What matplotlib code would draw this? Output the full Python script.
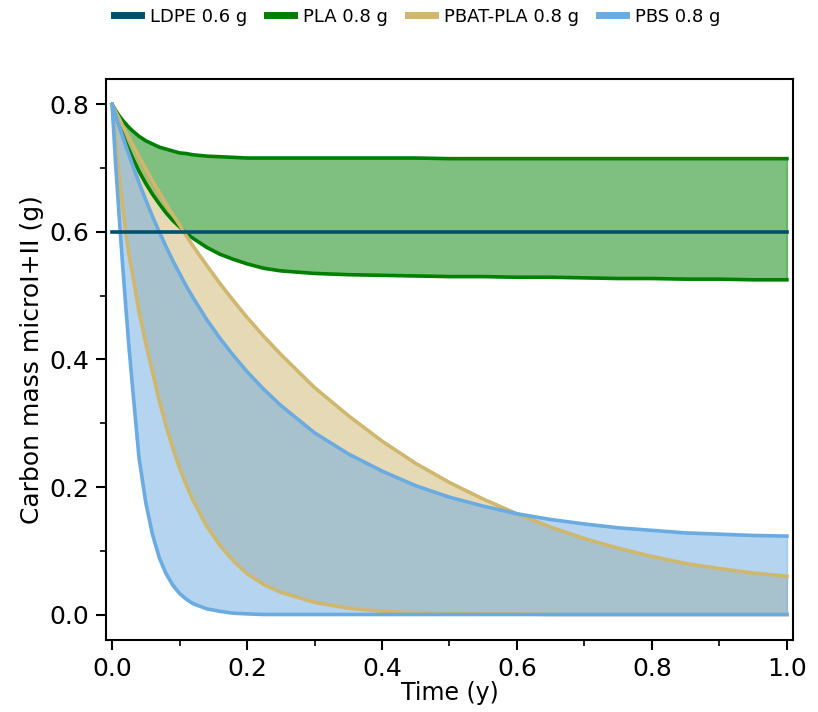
import matplotlib
matplotlib.use('Agg')
import matplotlib.pyplot as plt
from matplotlib.lines import Line2D
from matplotlib.ticker import MultipleLocator

# Time grid (years) shared by the range curves
time = [0.0, 0.005, 0.01, 0.015, 0.02, 0.025, 0.03, 0.04, 0.05, 0.06, 0.07, 0.08,
        0.09, 0.10, 0.11, 0.12, 0.14, 0.16, 0.18, 0.20, 0.225, 0.25, 0.30, 0.35,
        0.40, 0.45, 0.50, 0.55, 0.60, 0.65, 0.70, 0.75, 0.80, 0.85, 0.90, 0.95, 1.00]

# LDPE stays constant
ldpe_time = [0.0, 1.0]
ldpe_mass = [0.6, 0.6]

# PLA 0.8 g: upper / lower bound
pla_upper = [0.800, 0.791, 0.783, 0.776, 0.770, 0.764, 0.759, 0.750, 0.743, 0.738, 0.733, 0.730,
             0.727, 0.724, 0.723, 0.721, 0.719, 0.718, 0.717, 0.716, 0.716, 0.716, 0.716, 0.716,
             0.716, 0.716, 0.715, 0.715, 0.715, 0.715, 0.715, 0.715, 0.715, 0.715, 0.715, 0.715, 0.715]
pla_lower = [0.800, 0.784, 0.769, 0.755, 0.741, 0.729, 0.717, 0.695, 0.676, 0.659, 0.644, 0.630,
             0.618, 0.608, 0.598, 0.590, 0.576, 0.565, 0.557, 0.550, 0.543, 0.539, 0.535, 0.533,
             0.532, 0.531, 0.530, 0.530, 0.529, 0.529, 0.528, 0.527, 0.527, 0.526, 0.526, 0.525, 0.525]

# PBAT-PLA 0.8 g
pbat_upper = [0.800, 0.789, 0.779, 0.768, 0.758, 0.748, 0.738, 0.718, 0.699, 0.680, 0.662, 0.644,
              0.627, 0.611, 0.594, 0.578, 0.548, 0.519, 0.492, 0.466, 0.436, 0.408, 0.356, 0.312,
              0.272, 0.237, 0.207, 0.181, 0.158, 0.137, 0.119, 0.104, 0.091, 0.080, 0.072, 0.065, 0.060]
pbat_lower = [0.800, 0.745, 0.690, 0.645, 0.600, 0.565, 0.535, 0.475, 0.425, 0.380, 0.335, 0.296,
              0.261, 0.230, 0.203, 0.179, 0.139, 0.108, 0.084, 0.064, 0.047, 0.035, 0.019, 0.010,
              0.005, 0.003, 0.002, 0.001, 0.001, 0.000, 0.000, 0.000, 0.000, 0.000, 0.000, 0.000, 0.000]

# PBS 0.8 g
pbs_upper = [0.800, 0.784, 0.768, 0.752, 0.736, 0.721, 0.706, 0.677, 0.650, 0.624, 0.600, 0.577,
             0.555, 0.535, 0.515, 0.497, 0.463, 0.433, 0.406, 0.381, 0.353, 0.328, 0.285, 0.252,
             0.225, 0.202, 0.184, 0.170, 0.158, 0.149, 0.142, 0.136, 0.132, 0.128, 0.126, 0.124, 0.123]
pbs_lower = [0.800, 0.710, 0.632, 0.557, 0.487, 0.420, 0.360, 0.245, 0.175, 0.125, 0.089, 0.064,
             0.046, 0.033, 0.024, 0.017, 0.009, 0.005, 0.002, 0.001, 0.000, 0.000, 0.000, 0.000,
             0.000, 0.000, 0.000, 0.000, 0.000, 0.000, 0.000, 0.000, 0.000, 0.000, 0.000, 0.000, 0.000]

labels = ['LDPE 0.6 g', 'PLA 0.8 g', 'PBAT-PLA 0.8 g', 'PBS 0.8 g']
colors = ['#00506e', '#008000', '#cfb76e', '#6aabe2']

fig = plt.figure(figsize=(8.18, 7.12), dpi=100)
ax = fig.add_axes([0.1296, 0.1011, 0.8398, 0.7880])

# Ranges: fill between bounds, then outline them
ranges = [(pla_upper, pla_lower, colors[1]),
          (pbat_upper, pbat_lower, colors[2]),
          (pbs_upper, pbs_lower, colors[3])]
for upper, lower, c in ranges:
    ax.fill_between(time, lower, upper, color=c, alpha=0.5)
    ax.plot(time, upper, color=c, lw=2.6)
    ax.plot(time, lower, color=c, lw=2.6)

ax.plot(ldpe_time, ldpe_mass, color=colors[0], lw=2.6)

ax.set_xlim(-0.009, 1.009)
ax.set_ylim(-0.04, 0.84)
ax.xaxis.set_major_locator(MultipleLocator(0.2))
ax.xaxis.set_minor_locator(MultipleLocator(0.1))
ax.yaxis.set_major_locator(MultipleLocator(0.2))
ax.yaxis.set_minor_locator(MultipleLocator(0.1))
ax.tick_params(which='major', length=7, width=1.5, labelsize=18, pad=5)
ax.tick_params(which='minor', length=4, width=1.2)
for spine in ax.spines.values():
    spine.set_linewidth(1.5)

ax.set_xlabel('Time (y)', fontsize=17, labelpad=0)
ax.set_ylabel('Carbon mass microI+II (g)', fontsize=18, labelpad=4)

handles = [Line2D([0], [0], color=c, lw=5) for c in colors]
fig.legend(handles, labels, loc='upper center', bbox_to_anchor=(0.51, 1.012), ncol=4,
           frameon=False, fontsize=13, handlelength=1.5, columnspacing=1.1, handletextpad=0.5)

fig.savefig('out.png', dpi=100)
